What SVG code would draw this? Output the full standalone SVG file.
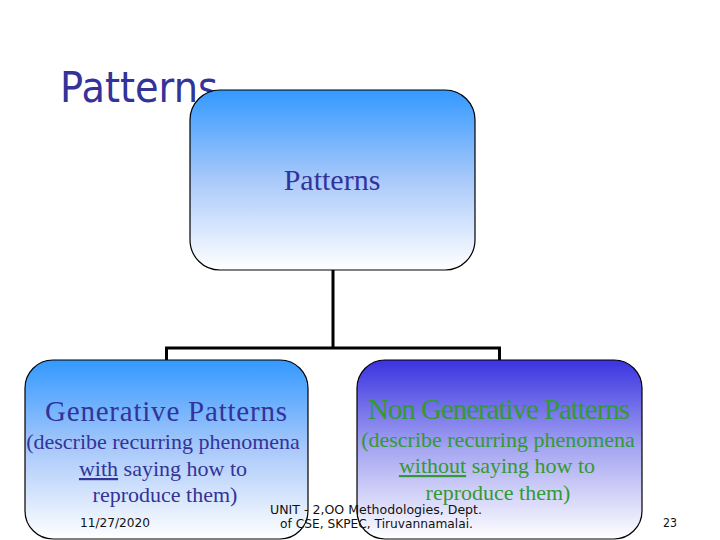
<svg xmlns="http://www.w3.org/2000/svg" width="720" height="540" viewBox="0 0 720 540">
<defs>
<linearGradient id="gBlue" x1="0" y1="0" x2="0" y2="1">
<stop offset="0" stop-color="#3399FF"/>
<stop offset="0.5" stop-color="#A9C9FA"/>
<stop offset="1" stop-color="#FFFFFF"/>
</linearGradient>
<linearGradient id="gViolet" x1="0" y1="0" x2="0" y2="1">
<stop offset="0" stop-color="#3A33E0"/>
<stop offset="0.5" stop-color="#A6A6F2"/>
<stop offset="1" stop-color="#FFFFFF"/>
</linearGradient>
</defs>
<style>
.box{stroke:#000;stroke-width:1.2}
.serif{font-family:"Liberation Serif","Times New Roman",serif}
.sans{font-family:"DejaVu Sans","Noto Sans",sans-serif}
.blue{fill:#333399}
.green{fill:#339933}
.foot{font-family:"DejaVu Sans","Noto Sans",sans-serif;font-size:13px;fill:#111}
.conn{stroke:#000;stroke-width:3;fill:none}
</style>
<rect width="720" height="540" fill="#fff"/>
<text class="sans blue" x="60" y="102" font-size="42" textLength="158" lengthAdjust="spacingAndGlyphs">Patterns</text>
<g id="connectors">
<path class="conn" d="M333 270 V348 M166.5 361 V348 H499.5 V361"/>
</g>
<g id="node-patterns">
<rect class="box" x="190" y="90" width="285" height="180" rx="30" ry="30" fill="url(#gBlue)"/>
<text class="serif blue" x="332" y="190" font-size="30" text-anchor="middle">Patterns</text>
</g>
<g id="node-generative">
<rect class="box" x="25" y="360" width="283" height="179" rx="28" ry="28" fill="url(#gBlue)"/>
<text class="serif blue" x="166" y="421" font-size="29" text-anchor="middle" textLength="242">Generative Patterns</text>
<text class="serif blue" x="163" y="449" font-size="22" text-anchor="middle">(describe recurring phenomena</text>
<text class="serif blue" x="163" y="476" font-size="22" text-anchor="middle"><tspan text-decoration="underline">with</tspan> saying how to</text>
<text class="serif blue" x="165" y="502" font-size="22" text-anchor="middle">reproduce them)</text>
</g>
<g id="node-nongenerative">
<rect class="box" x="357" y="360" width="285" height="179" rx="28" ry="28" fill="url(#gViolet)"/>
<text class="serif green" x="499" y="419" font-size="29" text-anchor="middle" textLength="262">Non Generative Patterns</text>
<text class="serif green" x="498" y="447" font-size="22" text-anchor="middle">(describe recurring phenomena</text>
<text class="serif green" x="497" y="473" font-size="22" text-anchor="middle"><tspan text-decoration="underline">without</tspan> saying how to</text>
<text class="serif green" x="498" y="500" font-size="22" text-anchor="middle">reproduce them)</text>
</g>
<text class="foot" x="80" y="527" textLength="70" lengthAdjust="spacingAndGlyphs">11/27/2020</text>
<text class="foot" x="270" y="514" textLength="212" lengthAdjust="spacingAndGlyphs">UNIT - 2,OO Methodologies, Dept.</text>
<text class="foot" x="280" y="528" textLength="193" lengthAdjust="spacingAndGlyphs">of CSE, SKPEC, Tiruvannamalai.</text>
<text class="foot" x="663" y="527" textLength="14" lengthAdjust="spacingAndGlyphs">23</text>
</svg>
